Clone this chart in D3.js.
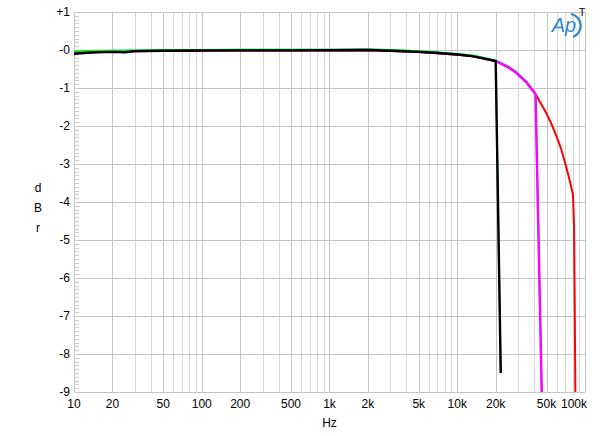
<!DOCTYPE html>
<html>
<head>
<meta charset="utf-8">
<script src="https://cdn.jsdelivr.net/npm/d3@7"></script>
<style>
  body { margin: 0; background: #fff; }
  text { font-family: "Liberation Sans", Arial, sans-serif; }
</style>
</head>
<body>
<script>
// tick labels
var xTicks = [10, 20, 50, 100, 200, 500, 1000, 2000, 5000, 10000, 20000, 50000, 100000];
var xTickLabels = ["10", "20", "50", "100", "200", "500", "1k", "2k", "5k", "10k", "20k", "50k", "100k"];
var yTicks = [1, 0, -1, -2, -3, -4, -5, -6, -7, -8, -9];
var yTickLabels = ["+1", "-0", "-1", "-2", "-3", "-4", "-5", "-6", "-7", "-8", "-9"];

// series (Hz, dBr)
var redFreq = [10, 12, 15, 20, 30, 50, 100, 200, 500, 1000, 2000, 3000, 5000, 7000, 10000, 13000, 15000, 17000, 20000, 25000, 29000, 35000, 41000, 45000, 50000, 55000, 60000, 65000, 70000, 75000, 80500, 82000, 83000, 84500];
var redDb   = [-0.08, -0.06, -0.05, -0.04, -0.03, -0.02, -0.015, -0.01, -0.01, -0.005, 0, -0.02, -0.05, -0.08, -0.12, -0.16, -0.2, -0.24, -0.29, -0.45, -0.6, -0.86, -1.16, -1.4, -1.67, -1.97, -2.28, -2.6, -2.98, -3.36, -3.8, -4.6, -6.5, -10];

var magentaFreq = [10, 15, 20, 30, 50, 100, 200, 500, 1000, 2000, 3000, 5000, 7000, 10000, 13000, 15000, 17000, 20000, 25000, 29000, 35000, 41000, 46500];
var magentaDb   = [-0.07, -0.05, -0.04, -0.03, -0.02, -0.015, -0.01, -0.01, -0.005, 0, -0.02, -0.05, -0.08, -0.12, -0.16, -0.2, -0.24, -0.29, -0.45, -0.6, -0.86, -1.16, -10];

var cyanFreq = [10, 15, 20, 30, 50, 100, 200, 500, 1000, 2000, 3000, 5000, 7000, 10000, 13000, 15000, 17000, 20000, 25000, 29000, 35000, 41000, 46500];
var cyanDb   = [-0.05, -0.03, -0.02, -0.01, 0, 0.005, 0.01, 0.01, 0.01, 0.015, 0, -0.03, -0.06, -0.1, -0.14, -0.18, -0.22, -0.27, -0.42, -0.57, -0.83, -1.16, -10];

var greenFreq = [10, 12, 15, 20, 30, 50, 100, 200, 500, 1000, 2000, 3000, 5000, 7000, 10000, 13000, 15000, 17000, 20000, 21900];
var greenDb   = [-0.04, -0.03, -0.02, -0.015, -0.01, 0, 0.005, 0.01, 0.01, 0.01, 0.015, 0, -0.03, -0.06, -0.1, -0.14, -0.18, -0.22, -0.29, -8.5];

var blackFreq = [10, 12, 15, 20, 25, 30, 50, 100, 200, 500, 1000, 2000, 3000, 5000, 7000, 10000, 13000, 15000, 17000, 20000, 21900];
var blackDb   = [-0.1, -0.08, -0.06, -0.05, -0.06, -0.03, -0.02, -0.015, -0.01, -0.01, -0.005, 0, -0.02, -0.05, -0.08, -0.12, -0.16, -0.2, -0.24, -0.29, -8.5];

var series = [
  { name: "red", color: "#ff0000", width: 2, freq: redFreq, db: redDb },
  { name: "cyan", color: "#00e5ff", width: 1.8, freq: cyanFreq, db: cyanDb },
  { name: "magenta", color: "#ff00ff", width: 2.4, freq: magentaFreq, db: magentaDb },
  { name: "green", color: "#00ee00", width: 1.8, freq: greenFreq, db: greenDb },
  { name: "black", color: "#000000", width: 2.4, freq: blackFreq, db: blackDb }
];

var width = 600, height = 436;
var plotLeft = 74, plotRight = 585, plotTop = 12, plotBottom = 392;

var svg = d3.select("body").append("svg")
  .attr("width", width)
  .attr("height", height);

var x = d3.scaleLog().domain([10, 100000]).range([plotLeft, plotRight]);
var y = d3.scaleLinear().domain([1, -9]).range([plotTop, plotBottom]);

// grid: every 1..9 multiple per decade
var gridX = [];
for (var d = 10; d < 100000; d *= 10) {
  for (var m = 1; m < 10; m++) gridX.push(d * m);
}
gridX.push(100000);

svg.append("g").selectAll("line").data(gridX).enter().append("line")
  .attr("x1", function(f) { return Math.round(x(f)) + 0.5; })
  .attr("x2", function(f) { return Math.round(x(f)) + 0.5; })
  .attr("y1", plotTop)
  .attr("y2", plotBottom)
  .style("stroke", function(f) { return xTicks.indexOf(f) >= 0 ? "#c4c4c4" : "#d6d6d6"; })
  .style("stroke-width", 1);

svg.append("g").selectAll("line").data(yTicks).enter().append("line")
  .attr("x1", plotLeft)
  .attr("x2", plotRight)
  .attr("y1", function(v) { return Math.round(y(v)) + 0.5; })
  .attr("y2", function(v) { return Math.round(y(v)) + 0.5; })
  .style("stroke", "#c4c4c4")
  .style("stroke-width", 1);

// minor ticks at 0.1 dB on the left edge
var minorY = d3.range(1, -9.01, -0.1);
svg.append("g").selectAll("line").data(minorY).enter().append("line")
  .attr("x1", plotLeft)
  .attr("x2", plotLeft + 5)
  .attr("y1", function(v) { return Math.round(y(v)) + 0.5; })
  .attr("y2", function(v) { return Math.round(y(v)) + 0.5; })
  .style("stroke", "#cfcfcf")
  .style("stroke-width", 1);

// tick labels
svg.append("g").selectAll("text").data(yTicks).enter().append("text")
  .attr("x", 70)
  .attr("y", function(v) { return y(v) + 4; })
  .attr("text-anchor", "end")
  .style("font-size", "12px")
  .text(function(v, i) { return yTickLabels[i]; });

svg.append("g").selectAll("text").data(xTicks).enter().append("text")
  .attr("x", function(f, i) { return i == xTicks.length - 1 ? x(f) - 11 : x(f); })
  .attr("y", 408)
  .attr("text-anchor", "middle")
  .style("font-size", "12px")
  .text(function(f, i) { return xTickLabels[i]; });

svg.append("text")
  .attr("x", (plotLeft + plotRight) / 2)
  .attr("y", 427)
  .attr("text-anchor", "middle")
  .style("font-size", "12px")
  .text("Hz");

svg.selectAll(".ylab").data(["d", "B", "r"]).enter().append("text")
  .attr("x", 38)
  .attr("y", function(c, i) { return 192 + i * 20; })
  .attr("text-anchor", "middle")
  .style("font-size", "12px")
  .text(function(c) { return c; });

// curves
svg.append("clipPath").attr("id", "plot-clip")
  .append("rect")
  .attr("x", plotLeft).attr("y", plotTop)
  .attr("width", plotRight - plotLeft).attr("height", plotBottom - plotTop);

var line = d3.line()
  .x(function(p) { return x(p[0]); })
  .y(function(p) { return y(p[1]); });

svg.append("g").attr("clip-path", "url(#plot-clip)")
  .selectAll("path").data(series).enter().append("path")
  .attr("d", function(s) { return line(d3.zip(s.freq, s.db)); })
  .style("fill", "none")
  .style("stroke", function(s) { return s.color; })
  .style("stroke-width", function(s) { return s.width; })
  .style("stroke-linejoin", "round");

// Ap logo + T
var logo = svg.append("g").attr("transform", "translate(567,26)");
logo.append("path")
  .attr("d", "M4,-12 A12,12 0 0 1 6,11")
  .style("fill", "none")
  .style("stroke", "#2f86c5")
  .style("stroke-width", 2.2);
logo.append("text")
  .attr("x", -3)
  .attr("y", 6)
  .attr("text-anchor", "middle")
  .style("font-size", "20px")
  .style("font-style", "italic")
  .style("fill", "#2f86c5")
  .text("Ap");

svg.append("text")
  .attr("x", 582)
  .attr("y", 16)
  .attr("text-anchor", "middle")
  .style("font-size", "11px")
  .text("T");
</script>
</body>
</html>
